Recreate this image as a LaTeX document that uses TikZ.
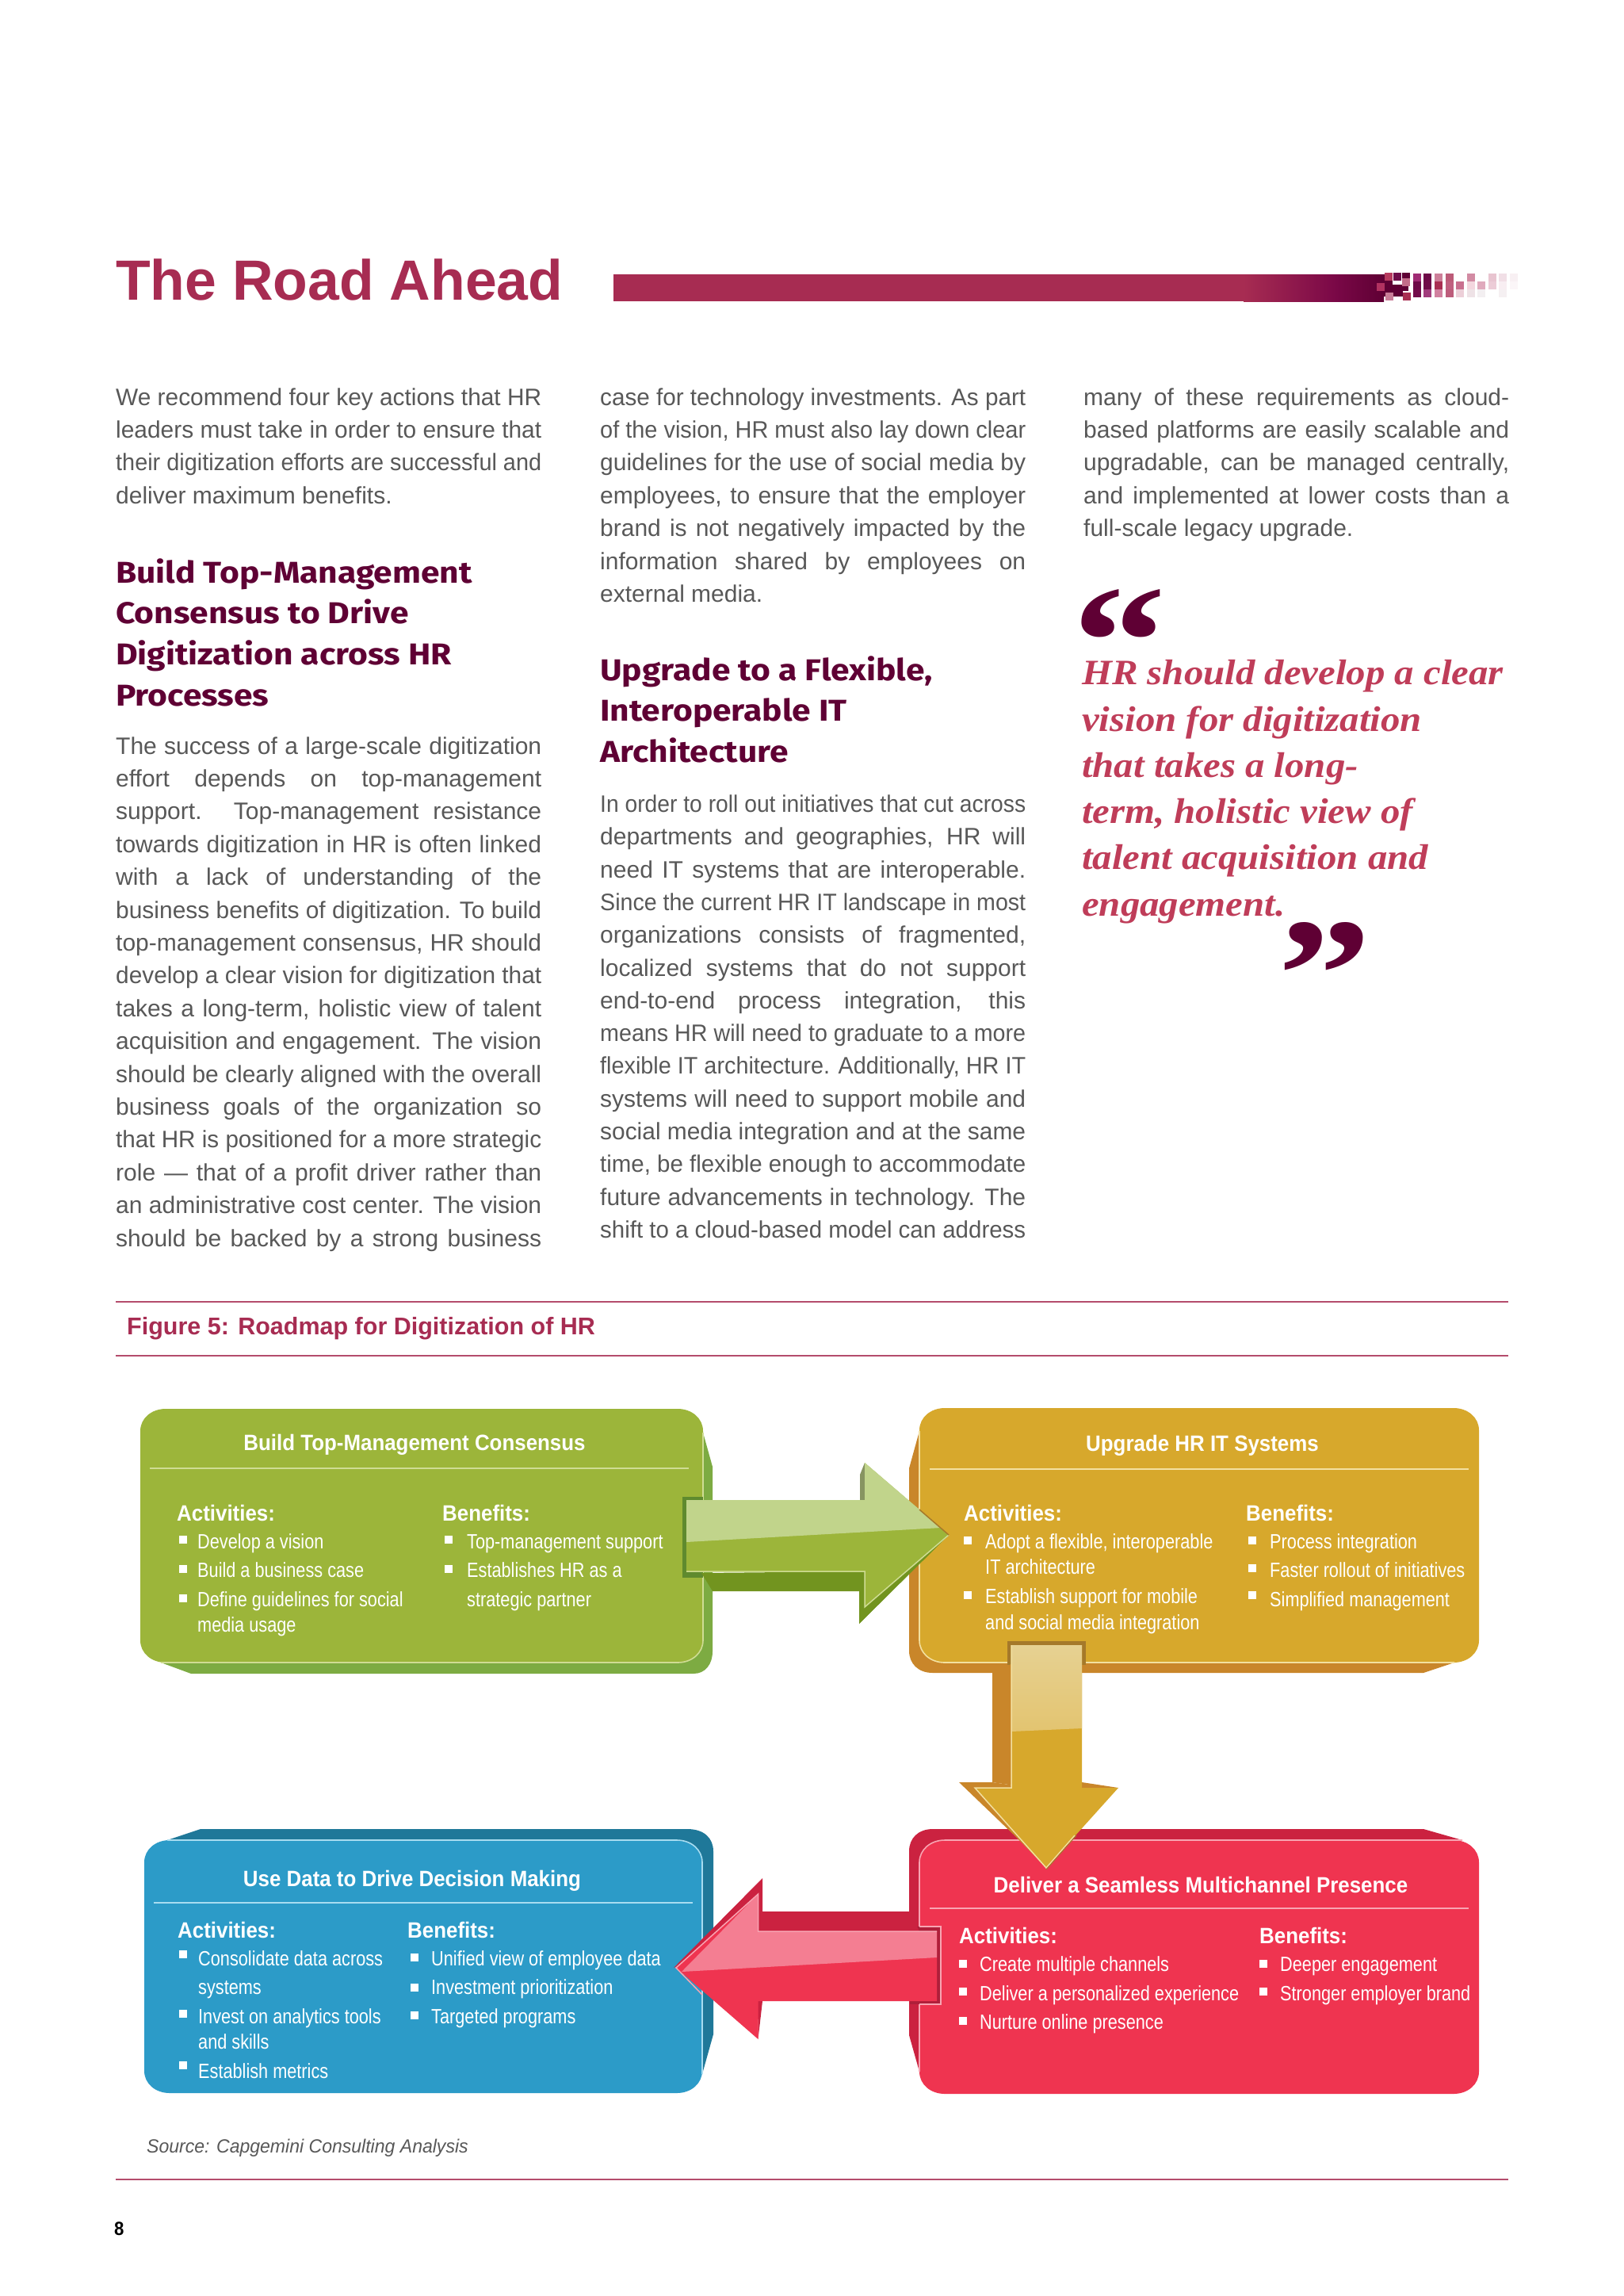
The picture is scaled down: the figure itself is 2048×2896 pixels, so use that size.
\documentclass[tikz,border=0pt]{standalone}
\usepackage{fontspec}
\usepackage{graphicx}
\setmainfont{Liberation Sans}
\newfontfamily\cbold[FakeStretch=0.925]{Liberation Sans}
\newfontfamily\creg[FakeStretch=0.835]{Liberation Sans}
\newfontfamily\srcf[FakeStretch=0.96]{Liberation Sans}
\newfontfamily\headf[FakeStretch=1.12]{Fira Sans}
\newfontfamily\quotef[FakeStretch=1.085]{Liberation Serif}
\newfontfamily\qmf[FakeStretch=1.18]{Liberation Serif}
\definecolor{wine}{HTML}{A72C52}
\definecolor{plum}{HTML}{5F0034}
\definecolor{barmid}{HTML}{7A0847}
\definecolor{bodyc}{HTML}{585858}
\definecolor{quotec}{HTML}{BF3D59}
\definecolor{grM}{HTML}{9CB53A}\definecolor{grS}{HTML}{7DAB42}\definecolor{grD}{HTML}{72941F}\definecolor{grL}{HTML}{CFDC94}\definecolor{grH}{HTML}{C1D48B}\definecolor{grF}{HTML}{5F8A2E}
\definecolor{goM}{HTML}{D7A82C}\definecolor{goS}{HTML}{C9862A}\definecolor{goD}{HTML}{A5792A}\definecolor{goL}{HTML}{F3E0A0}\definecolor{goH}{HTML}{E6D192}\definecolor{goG}{HTML}{E3C470}
\definecolor{reM}{HTML}{EF3450}\definecolor{reS}{HTML}{CB2240}\definecolor{reD}{HTML}{AF1F3A}\definecolor{reL}{HTML}{F8A4B2}\definecolor{reH}{HTML}{F47E92}
\definecolor{blM}{HTML}{2C9BC8}\definecolor{blS}{HTML}{1F7899}\definecolor{blL}{HTML}{A8DCF0}
\newlength\jw
\newcommand\jL[1]{\settowidth\jw{#1}\ifdim\jw>537pt \hbox{\resizebox{537pt}{\height}{#1}}\else\hbox{\makebox[537pt][s]{#1}}\fi}
\newcommand\nL[1]{\hbox{#1}}
\newcommand\rrp[4]{(#1+32,#2) -- (#3-32,#2) .. controls (#3-14,#2) and (#3,#2+12) .. (#3,#2+28) -- (#3,#4-28) .. controls (#3,#4-12) and (#3-14,#4) .. (#3-32,#4) -- (#1+32,#4) .. controls (#1+14,#4) and (#1,#4-12) .. (#1,#4-28) -- (#1,#2+28) .. controls (#1,#2+12) and (#1+14,#2) .. (#1+32,#2) -- cycle}
\newcommand\bul[2]{\fill[white] (#1,#2-5) rectangle (#1+10,#2+5);}
\newcommand\sq[3]{\definecolor{tmpc}{HTML}{#3}\fill[tmpc] (#1-5,#2-5) rectangle (#1+5,#2+5);}
\tikzset{
  x=1pt,y=-1pt,
  body/.style={anchor=base west,inner sep=0pt,text=bodyc,font=\fontsize{30}{41.4}\selectfont},
  heading/.style={anchor=base west,inner sep=0pt,text=plum,font=\headf\bfseries\fontsize{38}{52}\selectfont},
  boxtitle/.style={anchor=base,inner sep=0pt,text=white,font=\cbold\bfseries\fontsize{28}{30}\selectfont},
  colhead/.style={anchor=base west,inner sep=0pt,text=white,font=\cbold\bfseries\fontsize{28}{30}\selectfont},
  item/.style={anchor=base west,inner sep=0pt,text=white,font=\creg\fontsize{26}{30}\selectfont},
  pagerule/.style={draw=wine!85!white,line width=2pt},
  quoteline/.style={anchor=base west,inner sep=0pt,text=quotec,font=\quotef\bfseries\itshape\fontsize{45}{58}\selectfont},
  quotemark/.style={anchor=base west,inner sep=0pt,text=plum,font=\qmf\bfseries\fontsize{200}{200}\selectfont},
}
\begin{document}
\begin{tikzpicture}
\useasboundingbox (0,0) rectangle (2048,2896);
\fill[white] (0,0) rectangle (2048,2896);
% ---------- page title and bar
\node[anchor=base west,inner sep=0pt,text=wine,font=\bfseries\fontsize{71.5}{80}\selectfont] (title) at (146,378) {The Road Ahead};
\fill[wine] (774,346) rectangle (1570,380);
\shade[left color=wine,right color=barmid] (1569,346) rectangle (1685,380);
\shade[left color=barmid,right color=plum] (1684,346) rectangle (1746,380);
\fill[plum] (1745,359) rectangle (1777,367);
\fill[plum] (1745,346) rectangle (1757,359);
\fill[plum] (1745,367) rectangle (1770,374);
\sq{1752}{349}{B73A5E}\sq{1763}{349}{6F0C4A}\sq{1774}{349}{5E0034}\sq{1774}{356}{C36D89}\sq{1742}{362}{B13260}\sq{1764}{369}{5E0034}\sq{1753}{374}{C87D97}\sq{1775}{374}{A92F52}
\sq{1788}{350}{A02B74}\sq{1801}{350}{6E0A48}\sq{1815}{350}{CD7F99}\sq{1829}{350}{BC5B78}\sq{1856}{350}{D28BA3}\sq{1882.6}{350}{E8C4D0}\sq{1896}{350}{F1DFE6}\sq{1910}{350}{F8F0F3}
\sq{1788}{360}{6E0A48}\sq{1801}{360}{700B49}\sq{1815}{360}{A92F52}\sq{1829}{360}{C06080}\sq{1842}{360}{C9708F}\sq{1856}{360}{F3D6DE}\sq{1869}{360}{E0AABD}\sq{1882.6}{360}{ECCCD7}\sq{1896}{360}{F8EEF2}\sq{1910}{360}{FBF6F8}
\sq{1788}{370}{730C4A}\sq{1801}{370}{A13C7C}\sq{1815}{370}{D1809F}\sq{1829}{370}{BD5C7B}\sq{1842}{370}{ECCFD8}\sq{1856}{370}{EEE2E6}\sq{1869}{370}{F3EFF1}\sq{1896}{370}{F5F0F2}
% ---------- column 1
\node[body] (c1a) at (146,511) {\vtop{\baselineskip=41.4pt\lineskiplimit=-100pt
\jL{We recommend four key actions that HR}
\jL{leaders must take in order to ensure that}
\jL{their digitization efforts are successful and}
\nL{deliver maximum benefits.}}};
\node[heading] (h1) at (146,735) {\vtop{\baselineskip=51.8pt\lineskiplimit=-100pt
\nL{Build Top-Management}
\nL{Consensus to Drive}
\nL{Digitization across HR}
\nL{Processes}}};
\node[body] (c1b) at (146,951) {\vtop{\baselineskip=41.4pt\lineskiplimit=-100pt
\jL{The success of a large-scale digitization}
\jL{effort depends on top-management}
\jL{support. Top-management resistance}
\jL{towards digitization in HR is often linked}
\jL{with a lack of understanding of the}
\jL{business benefits of digitization. To build}
\jL{top-management consensus, HR should}
\jL{develop a clear vision for digitization that}
\jL{takes a long-term, holistic view of talent}
\jL{acquisition and engagement. The vision}
\jL{should be clearly aligned with the overall}
\jL{business goals of the organization so}
\jL{that HR is positioned for a more strategic}
\jL{role — that of a profit driver rather than}
\jL{an administrative cost center. The vision}
\jL{should be backed by a strong business}}};
% ---------- column 2
\node[body] (c2a) at (757,511) {\vtop{\baselineskip=41.4pt\lineskiplimit=-100pt
\jL{case for technology investments. As part}
\jL{of the vision, HR must also lay down clear}
\jL{guidelines for the use of social media by}
\jL{employees, to ensure that the employer}
\jL{brand is not negatively impacted by the}
\jL{information shared by employees on}
\nL{external media.}}};
\node[heading] (h2) at (757,858) {\vtop{\baselineskip=51.8pt\lineskiplimit=-100pt
\nL{Upgrade to a Flexible,}
\nL{Interoperable IT}
\nL{Architecture}}};
\node[body] (c2b) at (757,1024.5) {\vtop{\baselineskip=41.3pt\lineskiplimit=-100pt
\jL{In order to roll out initiatives that cut across}
\jL{departments and geographies, HR will}
\jL{need IT systems that are interoperable.}
\jL{Since the current HR IT landscape in most}
\jL{organizations consists of fragmented,}
\jL{localized systems that do not support}
\jL{end-to-end process integration, this}
\jL{means HR will need to graduate to a more}
\jL{flexible IT architecture. Additionally, HR IT}
\jL{systems will need to support mobile and}
\jL{social media integration and at the same}
\jL{time, be flexible enough to accommodate}
\jL{future advancements in technology. The}
\jL{shift to a cloud-based model can address}}};
% ---------- column 3
\node[body] (c3a) at (1367,511) {\vtop{\baselineskip=41.4pt\lineskiplimit=-100pt
\jL{many of these requirements as cloud-}
\jL{based platforms are easily scalable and}
\jL{upgradable, can be managed centrally,}
\jL{and implemented at lower costs than a}
\nL{full-scale legacy upgrade.}}};
\node[quotemark] (qo) at (1353,876) {“};
\node[quoteline] (q1) at (1365,863) {HR should develop a clear};
\node[quoteline] (q2) at (1365,922) {vision for digitization};
\node[quoteline] (q3) at (1365,980) {that takes a long-};
\node[quoteline] (q4) at (1365,1038) {term, holistic view of};
\node[quoteline] (q5) at (1365,1096) {talent acquisition and};
\node[quoteline] (q6) at (1365,1155) {engagement.};
\node[quotemark] (qc) at (1612,1296) {”};
% ---------- figure caption
\draw[pagerule] (146,1642) -- (1903,1642);
\draw[pagerule] (146,1710) -- (1903,1710);
\node[anchor=base west,inner sep=0pt,text=wine,font=\bfseries\fontsize{30.5}{34}\selectfont] (figcap) at (160,1683) {Figure 5: Roadmap for Digitization of HR};
% ---------- green box
\fill[grS] (887,1807) -- (899,1850) -- (899,2083) .. controls (899,2099) and (890,2111) .. (875,2111) -- (241,2111) -- (203,2097) -- cycle;
\fill[grM] \rrp{177}{1777}{887}{2097};
\draw[grL,line width=1.6pt] (887,1807) -- (887,2069) .. controls (887,2085) and (873,2097) .. (855,2097) -- (203,2097);
\draw[grL,line width=1.6pt] (189,1852) -- (869,1852);
% ---------- gold box
\fill[goS] (1160,1805) -- (1147,1852) -- (1147,2082) .. controls (1147,2098) and (1158,2110) .. (1177,2110) -- (1796,2110) -- (1835,2097) -- cycle;
\fill[goM] \rrp{1160}{1776}{1866}{2097};
\draw[goL,line width=1.6pt] (1160,1805) -- (1160,2069) .. controls (1160,2085) and (1174,2097) .. (1192,2097) -- (1835,2097);
\draw[goL,line width=1.6pt] (1173,1853) -- (1853,1853);
% ---------- red box
\fill[reS] (1160,2613) -- (1147,2567) -- (1147,2335) .. controls (1147,2319) and (1158,2307) .. (1177,2307) -- (1796,2307) -- (1845,2321) -- cycle;
\fill[reM] \rrp{1160}{2321}{1866}{2641};
\draw[reL,line width=1.6pt] (1160,2613) -- (1160,2349) .. controls (1160,2333) and (1174,2321) .. (1192,2321) -- (1845,2321);
\draw[reL,line width=1.6pt] (1173,2407) -- (1853,2407);
% ---------- blue box
\fill[blS] (886,2616) -- (900,2566) -- (900,2335) .. controls (900,2319) and (889,2307) .. (867,2307) -- (253,2307) -- (211,2321) -- cycle;
\fill[blM] \rrp{182}{2321}{886}{2640};
\draw[blL,line width=1.6pt] (886,2616) -- (886,2349) .. controls (886,2333) and (872,2321) .. (854,2321) -- (211,2321);
\draw[blL,line width=1.6pt] (194,2400) -- (874,2400);
% ---------- box texts
\node[boxtitle] (t1) at (523,1829) {Build Top-Management Consensus};
\node[colhead] (a1) at (223,1918) {Activities:};
\node[colhead] (b1) at (558,1918) {Benefits:};
\bul{226}{1942}\node[item] (a11) at (249,1953) {Develop a vision};
\bul{226}{1979}\node[item] (a12) at (249,1989) {Build a business case};
\bul{226}{2016}\node[item] (a13) at (249,2026) {Define guidelines for social};
\node[item] (a14) at (249,2058) {media usage};
\bul{561}{1942}\node[item] (b11) at (589,1953) {Top-management support};
\bul{561}{1979}\node[item] (b12) at (589,1989) {Establishes HR as a};
\node[item] (b13) at (589,2026) {strategic partner};
\node[boxtitle] (t2) at (1517,1830) {Upgrade HR IT Systems};
\node[colhead] (a2) at (1216,1918) {Activities:};
\node[colhead] (b2) at (1572,1918) {Benefits:};
\bul{1216}{1943}\node[item] (a21) at (1243,1953) {Adopt a flexible, interoperable};
\node[item] (a22) at (1243,1985) {IT architecture};
\bul{1216}{2012}\node[item] (a23) at (1243,2022) {Establish support for mobile};
\node[item] (a24) at (1243,2055) {and social media integration};
\bul{1575}{1943}\node[item] (b21) at (1602,1953) {Process integration};
\bul{1575}{1978}\node[item] (b22) at (1602,1989) {Faster rollout of initiatives};
\bul{1575}{2012}\node[item] (b23) at (1602,2026) {Simplified management};
\node[boxtitle] (t3) at (1515,2387) {Deliver a Seamless Multichannel Presence};
\node[colhead] (a3) at (1210,2451) {Activities:};
\node[colhead] (b3) at (1589,2451) {Benefits:};
\bul{1210}{2477}\node[item] (a31) at (1236,2486) {Create multiple channels};
\bul{1210}{2512}\node[item] (a32) at (1236,2523) {Deliver a personalized experience};
\bul{1210}{2549}\node[item] (a33) at (1236,2559) {Nurture online presence};
\bul{1589}{2477}\node[item] (b31) at (1615,2486) {Deeper engagement};
\bul{1589}{2512}\node[item] (b32) at (1615,2523) {Stronger employer brand};
\node[boxtitle] (t4) at (520,2379) {Use Data to Drive Decision Making};
\node[colhead] (a4) at (224,2444) {Activities:};
\node[colhead] (b4) at (514,2444) {Benefits:};
\bul{226}{2465}\node[item] (a41) at (250,2479) {Consolidate data across};
\node[item] (a42) at (250,2515) {systems};
\bul{226}{2540}\node[item] (a43) at (250,2552) {Invest on analytics tools};
\node[item] (a44) at (250,2584) {and skills};
\bul{226}{2605}\node[item] (a45) at (250,2621) {Establish metrics};
\bul{518}{2469}\node[item] (b41) at (544,2479) {Unified view of employee data};
\bul{518}{2507}\node[item] (b42) at (544,2515) {Investment prioritization};
\bul{518}{2542}\node[item] (b43) at (544,2552) {Targeted programs};
% ---------- green arrow
\fill[grF] (861,1888) rectangle (887,1990);
\fill[grD] (885,1984) -- (899,2007) -- (1084,2007) -- (1084,2048) -- (1197,1936) -- (1091,2027) -- (1091,1982) -- cycle;
\fill[grD] (1084,2048) -- (1091,2027) -- (1197,1936) -- cycle;
\fill[black!30!grH] (1085,1892) -- (1085,1860) -- (1091,1845) -- (1091,1892) -- cycle;
\fill[grM] (866,1892) -- (1091,1892) -- (1091,1845) -- (1197,1936) -- (1091,2027) -- (1091,1982) -- (866,1982) -- cycle;
\fill[grH] (866,1892) -- (1091,1892) -- (1091,1845) -- (1187,1927) -- (866,1945) -- cycle;
\draw[grL,line width=1.5pt] (866,1982) -- (1091,1982) -- (1091,2027) -- (1197,1936);
\draw[goD,line width=1.5pt] (1160,1904) -- (1197,1936);
% ---------- gold arrow
\fill[goD] (1271,2070) rectangle (1370,2100);
\fill[goS] (1252,2110) -- (1280,2097) -- (1280,2252) -- (1252,2248) -- cycle;
\fill[goS] (1210,2248) -- (1252,2248) -- (1280,2252) -- (1320,2356) -- (1284,2319) -- cycle;
\fill[goS] (1365,2248) -- (1411,2255) -- (1365,2258) -- cycle;
\fill[goM] (1276,2075) -- (1365,2075) -- (1365,2255) -- (1411,2255) -- (1320,2356) -- (1230,2255) -- (1276,2255) -- cycle;
\shade[top color=goH,bottom color=goG] (1276,2075) -- (1365,2075) -- (1365,2180) -- (1276,2184) -- cycle;
\draw[goL,line width=1.5pt] (1276,2075) -- (1276,2255) -- (1230,2255) -- (1320,2356) -- (1356,2315);
\draw[goD,line width=1pt] (1320,2358) -- (1358,2315);
% ---------- red arrow
\fill[reD] (1148,2430) rectangle (1187,2528);
\draw[reL,line width=1.5pt] (1160,2430) -- (1187,2430) -- (1187,2528) -- (1160,2528);
\fill[reS] (962,2411) -- (1147,2411) -- (1160,2436) -- (956,2436) -- cycle;
\fill[reS] (962,2369) -- (850,2482) -- (956.5,2436) -- (962,2436) -- cycle;
\fill[reS] (956.5,2572) -- (962,2524) -- (956,2524) -- cycle;
\fill[reM] (1182,2436) -- (956.5,2436) -- (956.5,2389) -- (853,2482) -- (956.5,2572) -- (956.5,2524) -- (1182,2524) -- cycle;
\fill[reH] (1182,2436) -- (956.5,2436) -- (956.5,2389) -- (860,2487) -- (1182,2469) -- cycle;
\draw[reL,line width=1.5pt] (1182,2436) -- (956.5,2436) -- (956.5,2389) -- (853,2482) -- (886,2516);
% ---------- source, rule, page number
\node[anchor=base west,inner sep=0pt,text=bodyc,font=\srcf\itshape\fontsize{24}{28}\selectfont] (src) at (185,2715) {Source: Capgemini Consulting Analysis};
\draw[pagerule] (146,2749) -- (1903,2749);
\node[anchor=base west,inner sep=0pt,text=black,font=\cbold\bfseries\fontsize{24}{28}\selectfont] (pg) at (144,2819) {8};
\end{tikzpicture}
\end{document}
